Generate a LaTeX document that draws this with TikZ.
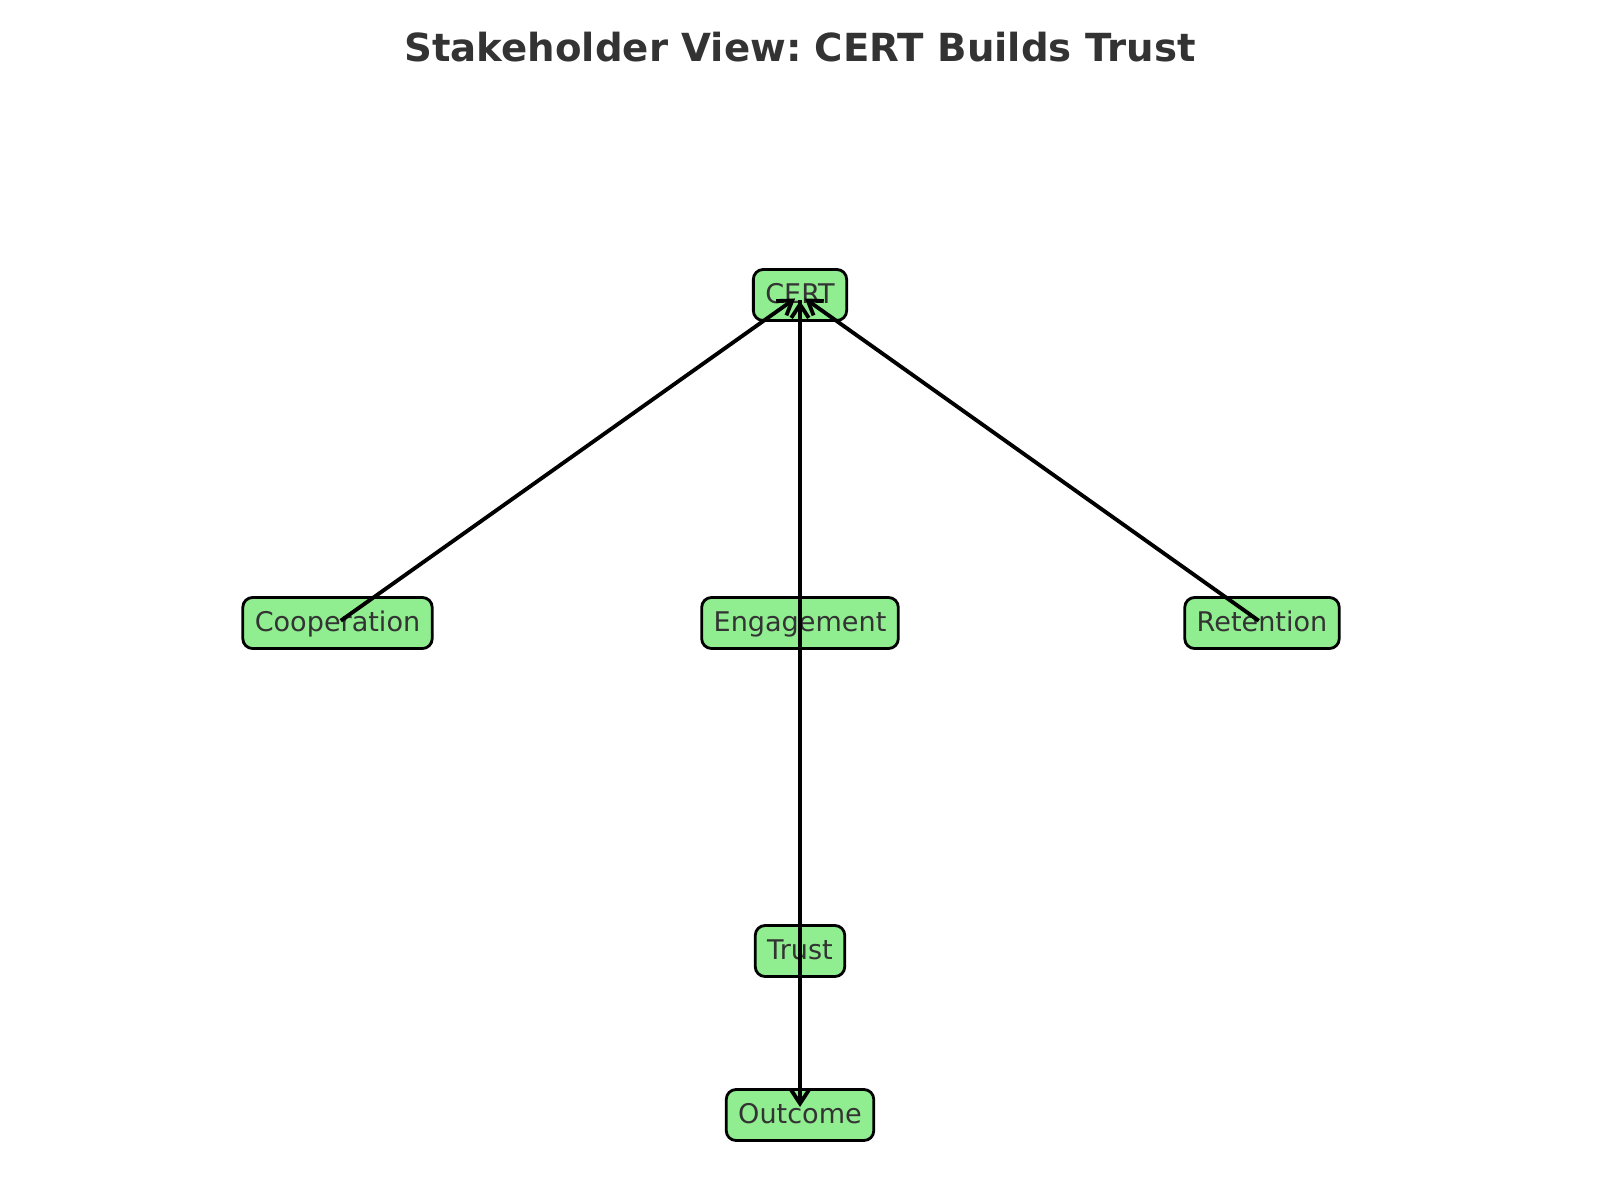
\documentclass[tikz,border=0pt]{standalone}
\usepackage{fontspec}
\setmainfont{DejaVu Sans}
\usetikzlibrary{arrows.meta}
\definecolor{boxfill}{HTML}{90EE90}
\definecolor{txtgray}{HTML}{333333}
\frenchspacing
\begin{document}
\begin{tikzpicture}[x=0.01cm,y=-0.01cm,
  nodebox/.style={draw=black, fill=boxfill, line width=0.8pt, rounded corners=2.8pt,
    text=txtgray, font=\fontsize{7.7pt}{9pt}\selectfont, inner xsep=3.4pt, inner ysep=0pt,
    minimum height=51*0.2845pt, text height=20*0.2845pt, text depth=4*0.2845pt},
  conn/.style={draw=black, line width=1.1pt, -{Straight Barb[length=3.8pt,width=5pt]}, shorten >=6*0.2845pt}
]
\useasboundingbox (0,0) rectangle (1600,1200);
\node[font=\bfseries\fontsize{11pt}{13pt}\selectfont, text=txtgray] (title) at (800,47) {Stakeholder View: CERT Builds Trust};
\node[nodebox] (cert) at (800,295) {CERT};
\node[nodebox] (coop) at (337.5,623) {Cooperation};
\node[nodebox] (eng) at (800,623) {Engagement};
\node[nodebox] (ret) at (1262,623) {Retention};
\node[nodebox] (trust) at (800,951) {Trust};
\node[nodebox] (out) at (800,1115) {Outcome};
\draw[conn, shorten <=4pt*0.2845] (coop.center) -- (cert.center);
\draw[conn] (eng.center) -- (cert.center);
\draw[conn, shorten <=4pt*0.2845] (ret.center) -- (cert.center);
\draw[conn, shorten >=8*0.2845pt, shorten <=5*0.2845pt] (cert.center) -- (out.center);
\end{tikzpicture}
\end{document}
